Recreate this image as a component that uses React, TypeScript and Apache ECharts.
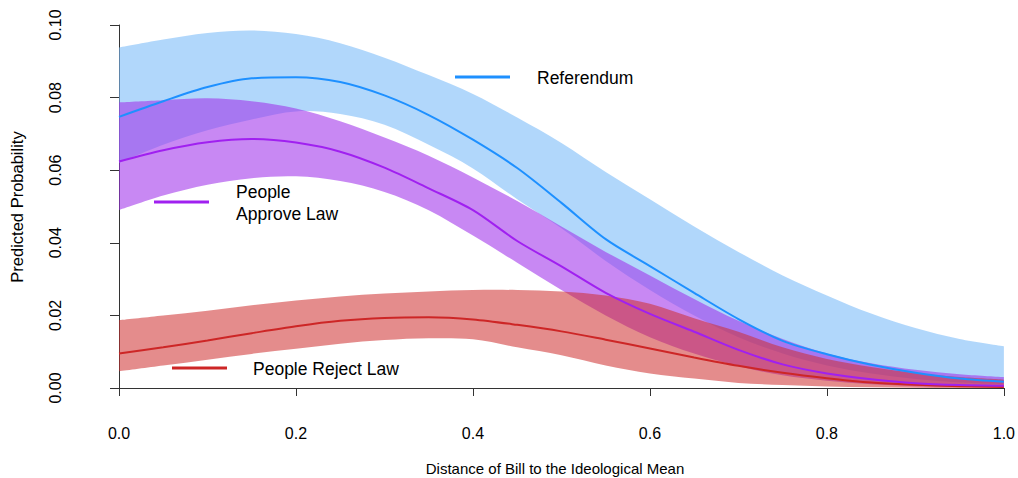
import React, { useEffect, useRef } from "react";
import * as echarts from "echarts";

const xs = [0, 0.05, 0.1, 0.15, 0.2, 0.25, 0.3, 0.35, 0.4, 0.45, 0.5, 0.55, 0.6, 0.65, 0.7, 0.75, 0.8, 0.85, 0.9, 0.95, 1.0];

const refMean = [0.0747, 0.079, 0.0829, 0.0853, 0.0856, 0.0843, 0.0806, 0.0752, 0.0684, 0.0606, 0.051, 0.041, 0.0336, 0.0262, 0.019, 0.013, 0.0093, 0.0064, 0.0042, 0.0026, 0.0017];
const refUpper = [0.0938, 0.096, 0.0978, 0.0985, 0.0975, 0.095, 0.091, 0.0862, 0.081, 0.0745, 0.0675, 0.0595, 0.052, 0.0445, 0.0375, 0.031, 0.0255, 0.0205, 0.0165, 0.0135, 0.0115];
const refLower = [0.062, 0.067, 0.071, 0.074, 0.0762, 0.0755, 0.0725, 0.067, 0.0605, 0.052, 0.044, 0.035, 0.027, 0.02, 0.014, 0.0095, 0.0062, 0.004, 0.0025, 0.0015, 0.001];

const appMean = [0.0624, 0.0655, 0.0677, 0.0686, 0.0676, 0.0651, 0.0607, 0.055, 0.049, 0.0405, 0.0335, 0.0262, 0.0204, 0.0155, 0.0105, 0.0065, 0.004, 0.0024, 0.0013, 0.0008, 0.0006];
const appUpper = [0.0787, 0.0793, 0.0798, 0.079, 0.077, 0.0735, 0.069, 0.064, 0.058, 0.0515, 0.0445, 0.0375, 0.031, 0.0245, 0.0185, 0.0135, 0.0095, 0.0068, 0.005, 0.0038, 0.003];
const appLower = [0.049, 0.053, 0.056, 0.0578, 0.0583, 0.057, 0.054, 0.049, 0.042, 0.0345, 0.027, 0.02, 0.014, 0.0095, 0.006, 0.0035, 0.002, 0.001, 0.0005, 0.0003, 0.0002];

const rejMean = [0.0095, 0.0112, 0.0131, 0.0151, 0.017, 0.0185, 0.0193, 0.0195, 0.0189, 0.0174, 0.0156, 0.0133, 0.0109, 0.0084, 0.0061, 0.0042, 0.0027, 0.0015, 0.0009, 0.0005, 0.0003];
const rejUpper = [0.0187, 0.02, 0.0213, 0.0228, 0.0241, 0.0252, 0.026, 0.0266, 0.027, 0.027, 0.0266, 0.0255, 0.0232, 0.0192, 0.0155, 0.0112, 0.008, 0.0058, 0.0041, 0.003, 0.0023];
const rejLower = [0.0046, 0.0062, 0.0078, 0.0094, 0.0108, 0.0122, 0.0132, 0.0137, 0.0134, 0.0112, 0.009, 0.0062, 0.004, 0.0026, 0.0014, 0.0008, 0.0004, 0.0002, 0.0001, 0, 0];

const xTicks = [0, 0.2, 0.4, 0.6, 0.8, 1.0];
const yTicks = [0, 0.02, 0.04, 0.06, 0.08, 0.1];

const FONT = "Liberation Sans, Arial, sans-serif";

const BLUE = "#1E90FF";
const PURPLE = "#A020F0";
const RED = "#CD2626";

type Pt = number[];

// cubic Catmull-Rom style path through screen points (rendering only)
function curve(pts: Pt[], start: boolean): string {
  let d = start ? `M${pts[0][0]},${pts[0][1]}` : `L${pts[0][0]},${pts[0][1]}`;
  for (let i = 0; i < pts.length - 1; i++) {
    const p0 = pts[Math.max(0, i - 1)];
    const p1 = pts[i];
    const p2 = pts[i + 1];
    const p3 = pts[Math.min(pts.length - 1, i + 2)];
    const c1x = p1[0] + (p2[0] - p0[0]) / 6;
    const c1y = p1[1] + (p2[1] - p0[1]) / 6;
    const c2x = p2[0] - (p3[0] - p1[0]) / 6;
    const c2y = p2[1] - (p3[1] - p1[1]) / 6;
    d += `C${c1x},${c1y},${c2x},${c2y},${p2[0]},${p2[1]}`;
  }
  return d;
}

function band(name: string, lower: number[], upper: number[], fill: string) {
  return {
    type: "custom",
    name,
    coordinateSystem: "cartesian2d",
    data: [[0, 0]],
    silent: true,
    renderItem: (_params: any, api: any) => {
      const up = xs.map((x, i) => api.coord([x, upper[i]]));
      const lo = xs.map((x, i) => api.coord([x, lower[i]])).reverse();
      const d = curve(up, true) + curve(lo, false) + "Z";
      return {
        type: "path",
        shape: { pathData: d },
        style: { fill, stroke: "none" },
      };
    },
  };
}

function meanLine(name: string, vals: number[], color: string) {
  return {
    type: "line",
    name,
    data: xs.map((x, i) => [x, vals[i]]),
    symbol: "none",
    smooth: 0.3,
    lineStyle: { color, width: 2 },
    z: 5,
  };
}

function legendItem(x1: number, x2: number, y: number, color: string, label: string, tx: number, ty: number) {
  return [
    { type: "line", shape: { x1, y1: y, x2, y2: y }, style: { stroke: color, lineWidth: 3 }, z: 10 },
    {
      type: "text",
      x: tx,
      y: ty,
      style: { text: label, font: `17.5px ${FONT}`, fill: "#000", textVerticalAlign: "middle", lineHeight: 22 },
      z: 10,
    },
  ];
}

export default function App() {
  const ref = useRef<HTMLDivElement>(null);
  useEffect(() => {
    const chart = echarts.init(ref.current!, null, { renderer: "svg" });
    chart.setOption({
      animation: false,
      backgroundColor: "#fff",
      grid: { left: 119, right: 13, top: 25, bottom: 90 },
      xAxis: {
        type: "value",
        min: 0,
        max: 1,
        interval: 0.2,
        offset: 15,
        axisLine: { show: true, lineStyle: { color: "#333", width: 1 } },
        axisTick: { show: true, length: 8, lineStyle: { color: "#333" } },
        axisLabel: {
          fontFamily: FONT,
          fontSize: 16,
          color: "#000",
          margin: 22,
          formatter: (v: number) => v.toFixed(1),
          customValues: xTicks,
        },
        splitLine: { show: false },
      },
      yAxis: {
        type: "value",
        min: 0,
        max: 0.1,
        interval: 0.02,
        offset: 35,
        axisLine: { show: true, lineStyle: { color: "#333", width: 1 } },
        axisTick: { show: true, length: 9, lineStyle: { color: "#333" } },
        axisLabel: {
          fontFamily: FONT,
          fontSize: 16,
          color: "#000",
          margin: 21,
          rotate: 90,
          formatter: (v: number) => v.toFixed(2),
          customValues: yTicks,
        },
        splitLine: { show: false },
      },
      series: [
        band("ref-band", refLower, refUpper, "rgba(125,188,248,0.6)"),
        band("app-band", appLower, appUpper, "rgba(160,50,235,0.58)"),
        band("rej-band", rejLower, rejUpper, "rgba(205,45,45,0.55)"),
        meanLine("People Reject Law", rejMean, RED),
        meanLine("People Approve Law", appMean, PURPLE),
        meanLine("Referendum", refMean, BLUE),
      ],
      graphic: [
        ...legendItem(455, 510, 77, BLUE, "Referendum", 537, 78),
        ...legendItem(154, 209, 202, PURPLE, "People\nApprove Law", 236, 203),
        ...legendItem(172, 227, 368, RED, "People Reject Law", 253, 369),
        {
          type: "text",
          x: 555,
          y: 468,
          style: { text: "Distance of Bill to the Ideological Mean", font: `15px ${FONT}`, fill: "#000", textAlign: "center", textVerticalAlign: "middle" },
        },
        {
          type: "text",
          x: 17,
          y: 207,
          rotation: Math.PI / 2,
          style: { text: "Predicted Probability", font: `16.5px ${FONT}`, fill: "#000", textAlign: "center", textVerticalAlign: "middle" },
        },
      ],
    });
    return () => chart.dispose();
  }, []);
  return <div ref={ref} style={{ position: "absolute", left: 0, top: 0, width: 1018, height: 478 }} />;
}
